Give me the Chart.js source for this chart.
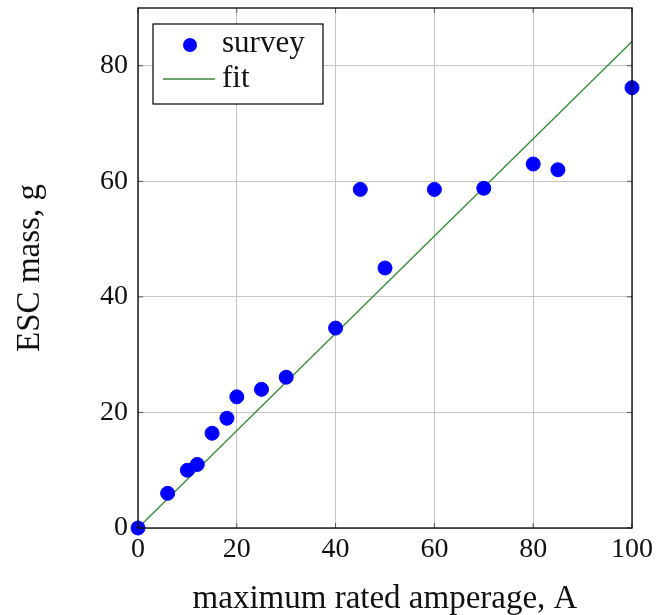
<!DOCTYPE html>
<html>
<head>
<meta charset="utf-8">
<script src="https://cdn.jsdelivr.net/npm/chart.js@4"></script>
<style>
    html, body { margin: 0; padding: 0; background: #fff; }
    #wrap { width: 659px; height: 615px; }
</style>
</head>
<body>
<div id="wrap"><canvas id="escChart" width="659" height="615"></canvas></div>
<script>
// survey data
const amps = [0, 6, 10, 12, 15, 18, 20, 25, 30, 40, 45, 50, 60, 70, 80, 85, 100];
const mass = [0, 6, 10, 11, 16.4, 19, 22.7, 24, 26.1, 34.6, 58.6, 45, 58.6, 58.8, 63, 62, 76.2];
// linear fit end points
const fitX = [0, 100];
const fitY = [0, 84.2];
const xTicks = [0, 20, 40, 60, 80, 100];
const yTicks = [0, 20, 40, 60, 80];

const serif = "'Liberation Serif', 'Times New Roman', serif";

// plot frame plus small inward tick marks
const framePlugin = {
    id: "frame",
    afterDraw(chart) {
        const { ctx, chartArea: a, scales } = chart;
        ctx.save();
        ctx.strokeStyle = "#555";
        ctx.lineWidth = 1;
        xTicks.forEach(v => {
            const x = scales.x.getPixelForValue(v);
            ctx.beginPath();
            ctx.moveTo(x, a.bottom); ctx.lineTo(x, a.bottom - 5);
            ctx.moveTo(x, a.top); ctx.lineTo(x, a.top + 5);
            ctx.stroke();
        });
        yTicks.forEach(v => {
            const y = scales.y.getPixelForValue(v);
            ctx.beginPath();
            ctx.moveTo(a.left, y); ctx.lineTo(a.left + 5, y);
            ctx.moveTo(a.right, y); ctx.lineTo(a.right - 5, y);
            ctx.stroke();
        });
        ctx.strokeStyle = "#000";
        ctx.lineWidth = 1.3;
        ctx.strokeRect(a.left, a.top, a.right - a.left, a.bottom - a.top);
        ctx.restore();
    }
};

// boxed legend in the top left corner
const legendPlugin = {
    id: "boxLegend",
    afterDatasetsDraw(chart) {
        const { ctx, chartArea: a } = chart;
        const bx = a.left + 15, by = a.top + 16, bw = 170, bh = 80;
        ctx.save();
        ctx.fillStyle = "#fff";
        ctx.fillRect(bx, by, bw, bh);
        ctx.strokeStyle = "#000";
        ctx.lineWidth = 1.2;
        ctx.strokeRect(bx, by, bw, bh);

        const sets = chart.data.datasets;
        ctx.fillStyle = sets[0].backgroundColor;
        ctx.beginPath();
        ctx.arc(bx + 37, by + 21, 7, 0, Math.PI * 2);
        ctx.fill();

        ctx.strokeStyle = sets[1].borderColor;
        ctx.lineWidth = 1.3;
        ctx.beginPath();
        ctx.moveTo(bx + 10, by + 55);
        ctx.lineTo(bx + 62, by + 55);
        ctx.stroke();

        ctx.fillStyle = "#111";
        ctx.font = "31px " + serif;
        ctx.textBaseline = "middle";
        ctx.fillText(sets[0].label, bx + 69, by + 20);
        ctx.fillText(sets[1].label, bx + 69, by + 55);
        ctx.restore();
    }
};

document.addEventListener("DOMContentLoaded", () => {
    const ctx = document.getElementById("escChart").getContext("2d");
    new Chart(ctx, {
        type: "scatter",
        data: {
            datasets: [
                {
                    label: "survey",
                    data: amps.map((a, i) => ({ x: a, y: mass[i] })),
                    backgroundColor: "#0000ff",
                    borderColor: "#0000ff",
                    pointRadius: 7,
                    pointHoverRadius: 7,
                    clip: false
                },
                {
                    label: "fit",
                    type: "line",
                    data: fitX.map((a, i) => ({ x: a, y: fitY[i] })),
                    borderColor: "#3a8a3a",
                    borderWidth: 1.3,
                    pointRadius: 0,
                    fill: false
                }
            ]
        },
        options: {
            responsive: false,
            animation: false,
            layout: { padding: { left: 0, right: 27, top: 8, bottom: 0 } },
            plugins: {
                legend: { display: false },
                tooltip: { enabled: false }
            },
            scales: {
                x: {
                    type: "linear",
                    min: 0,
                    max: 100,
                    afterBuildTicks: s => { s.ticks = xTicks.map(v => ({ value: v })); },
                    afterFit: s => { s.height = 87; s.paddingLeft = 0; s.paddingRight = 0; },
                    grid: { color: "#c4c4c4", lineWidth: 1, tickLength: 0 },
                    border: { display: false },
                    ticks: { color: "#111", font: { family: serif, size: 28 }, padding: 5, maxRotation: 0 },
                    title: {
                        display: true,
                        text: "maximum rated amperage, A",
                        color: "#111",
                        font: { family: serif, size: 33 },
                        padding: { top: 0, bottom: -4 }
                    }
                },
                y: {
                    type: "linear",
                    min: 0,
                    max: 90,
                    afterBuildTicks: s => { s.ticks = yTicks.map(v => ({ value: v })); },
                    afterFit: s => { s.width = 138; s.paddingTop = 0; s.paddingBottom = 0; },
                    grid: { color: "#c4c4c4", lineWidth: 1, tickLength: 0 },
                    border: { display: false },
                    ticks: { color: "#111", font: { family: serif, size: 28 }, padding: 10 },
                    title: {
                        display: true,
                        text: "ESC mass, g",
                        color: "#111",
                        font: { family: serif, size: 33 },
                        padding: { top: 11, bottom: 0 }
                    }
                }
            }
        },
        plugins: [framePlugin, legendPlugin]
    });
});
</script>
</body>
</html>
